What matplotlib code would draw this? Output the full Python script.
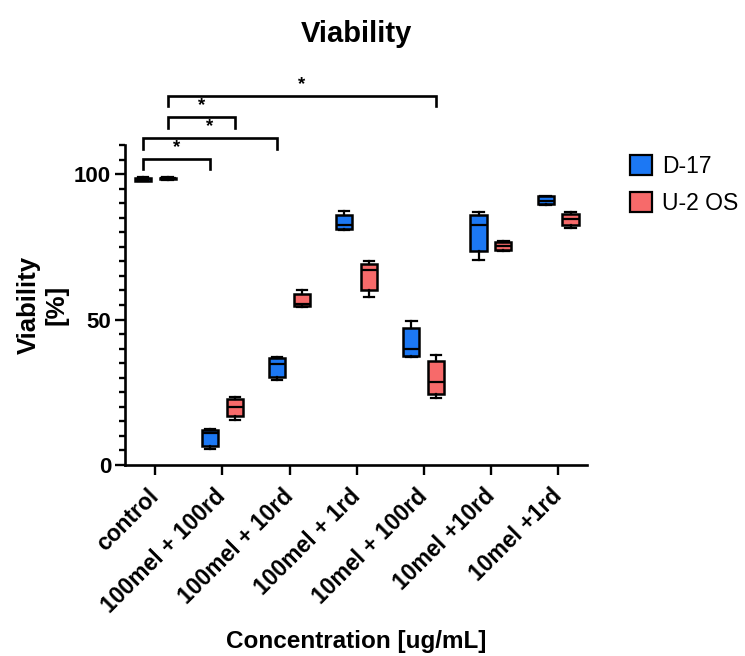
import matplotlib
matplotlib.use("Agg")
import matplotlib.pyplot as plt
from matplotlib.patches import Patch

plt.rcParams['font.family'] = ['Liberation Sans', 'DejaVu Sans']

# ------------------------------ 数据 ------------------------------ #
categories = ['control', '100mel + 100rd', '100mel + 10rd', '100mel + 1rd',
              '10mel + 100rd', '10mel +10rd', '10mel +1rd']
series_names = ['D-17', 'U-2 OS']
colors = ['#1C78F4', '#F76A6A']

# box statistics: min, q1, median, q3, max
d17_min = [97.5, 5.5, 29.3, 80.7, 37.0, 70.4, 89.4]
d17_q1 = [97.7, 6.6, 30.2, 81.0, 37.3, 73.6, 89.7]
d17_med = [98.2, 10.9, 34.8, 82.4, 39.9, 82.4, 90.8]
d17_q3 = [98.8, 12.1, 36.8, 85.9, 47.1, 85.9, 92.3]
d17_max = [99.0, 12.3, 37.2, 87.2, 49.4, 87.0, 92.6]

u2os_min = [98.1, 15.5, 54.4, 57.7, 23.2, 73.4, 81.5]
u2os_q1 = [98.2, 16.7, 54.8, 60.0, 24.4, 73.8, 82.4]
u2os_med = [98.5, 20.1, 55.2, 67.0, 28.5, 75.3, 84.7]
u2os_q3 = [98.8, 22.6, 58.9, 69.2, 35.6, 76.7, 86.4]
u2os_max = [98.9, 23.3, 60.1, 70.1, 37.9, 77.1, 86.8]

# significance brackets: (group, series) -> (group, series), height
bracket_left = [(0, 0), (0, 0), (0, 1), (0, 1)]
bracket_right = [(1, 0), (2, 0), (1, 1), (4, 1)]
bracket_y = [105.2, 112.3, 119.6, 127.0]
bracket_text = ['*', '*', '*', '*']

offset = 0.185
box_w = 0.24


def pos(group, series):
    return group + (-offset if series == 0 else offset)


def make_stats(mins, q1s, meds, q3s, maxs):
    stats = []
    for lo, q1, m, q3, hi in zip(mins, q1s, meds, q3s, maxs):
        stats.append(dict(whislo=lo, q1=q1, med=m, q3=q3, whishi=hi, fliers=[]))
    return stats


# ------------------------------ 绘图 ------------------------------ #
fig = plt.figure(figsize=(7.45, 6.56), dpi=100)
ax = fig.add_axes([125 / 745, 1 - 465 / 656, 462 / 745, 320 / 656])

all_stats = [make_stats(d17_min, d17_q1, d17_med, d17_q3, d17_max),
             make_stats(u2os_min, u2os_q1, u2os_med, u2os_q3, u2os_max)]

for s, stats in enumerate(all_stats):
    positions = [pos(i, s) for i in range(len(categories))]
    ax.bxp(stats, positions=positions, widths=box_w, patch_artist=True,
           showfliers=False, capwidths=box_w * 0.65,
           boxprops=dict(facecolor=colors[s], edgecolor='black', linewidth=1.8),
           medianprops=dict(color='black', linewidth=1.6),
           whiskerprops=dict(color='black', linewidth=1.6),
           capprops=dict(color='black', linewidth=1.6))

ax.set_xlim(-0.45, 6.43)
ax.set_ylim(0, 110)
ax.set_xticks(range(len(categories)))
ax.set_xticklabels(categories, rotation=45, ha='right', va='center',
                   rotation_mode='anchor', fontsize=16.5, fontweight='bold')
ax.set_yticks([0, 50, 100])
ax.set_yticks(range(0, 111, 5), minor=True)
ax.tick_params(axis='y', labelsize=16)
for lab in ax.get_yticklabels():
    lab.set_fontweight('bold')
ax.tick_params(axis='both', which='major', length=7, width=1.7, pad=3)
ax.tick_params(axis='x', which='major', pad=13)
ax.tick_params(axis='y', which='minor', length=4.5, width=1.7)
ax.tick_params(axis='x', which='minor', bottom=False)

for side in ['top', 'right']:
    ax.spines[side].set_visible(False)
for side in ['left', 'bottom']:
    ax.spines[side].set_linewidth(1.9)

ax.set_xlabel('Concentration [ug/mL]', fontsize=17.5, fontweight='bold', labelpad=9)
ax.set_ylabel('Viability\n[%]', fontsize=18.5, fontweight='bold', labelpad=4)
ax.set_title('Viability', fontsize=21, fontweight='bold', pad=74)

# 显著性标记
for (lg, ls), (rg, rs), y, t in zip(bracket_left, bracket_right, bracket_y, bracket_text):
    x0, x1 = pos(lg, ls), pos(rg, rs)
    ax.plot([x0, x0, x1, x1], [y - 3.6, y, y, y - 3.6], color='black',
            linewidth=1.9, clip_on=False, solid_joinstyle='miter')
    ax.text((x0 + x1) / 2, y + 1.0, t, ha='center', va='bottom',
            fontsize=13.5, fontweight='bold', clip_on=False)

handles = [Patch(facecolor=c, edgecolor='black', linewidth=1.6) for c in colors]
fig.legend(handles, series_names, loc='upper left',
           bbox_to_anchor=(630 / 745, 1 - 155 / 656), frameon=False,
           fontsize=16.5, handlelength=0.95, handleheight=0.95,
           handletextpad=0.45, labelspacing=0.6, borderpad=0, borderaxespad=0)

fig.savefig('out.png', dpi=100)
